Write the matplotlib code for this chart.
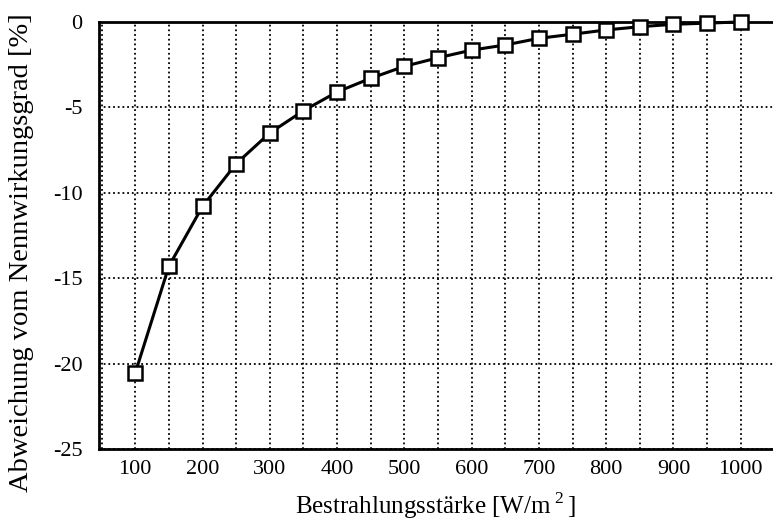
import matplotlib
matplotlib.use("Agg")
import matplotlib.pyplot as plt

# Bestrahlungsstärke in W/m^2 and Abweichung vom Nennwirkungsgrad in %
irradiance = [100, 150, 200, 250, 300, 350, 400, 450, 500, 550,
              600, 650, 700, 750, 800, 850, 900, 950, 1000]
deviation = [-20.55, -14.3, -10.8, -8.3, -6.5, -5.2, -4.1, -3.3, -2.6, -2.1,
             -1.65, -1.35, -0.96, -0.72, -0.47, -0.28, -0.14, -0.07, 0.0]

x_ticks = [100, 200, 300, 400, 500, 600, 700, 800, 900, 1000]
y_ticks = [0, -5, -10, -15, -20, -25]

plt.rcParams["font.family"] = ["Liberation Serif", "DejaVu Serif"]
plt.rcParams["mathtext.fontset"] = "custom"
plt.rcParams["mathtext.rm"] = "Liberation Serif"

fig = plt.figure(figsize=(7.73, 5.22), dpi=100)
ax = fig.add_axes([0.128, 0.140, 0.872, 0.818])

ax.plot(irradiance, deviation, color="black", lw=2.2, marker="s", ms=9.5,
        mfc="white", mec="black", mew=1.8, zorder=3, clip_on=False)

ax.set_xlim(46, 1048)
ax.set_ylim(-25, 0)
ax.set_xticks(x_ticks)
ax.set_xticks(range(50, 1050, 50), minor=True)
ax.set_yticks(y_ticks)
ax.set_yticklabels([str(v) for v in y_ticks])

dots = (0, (1, 1.6))
ax.grid(True, which="both", axis="x", color="black", ls=dots, lw=1.3)
ax.grid(True, which="major", axis="y", color="black", ls=dots, lw=1.3)
ax.set_axisbelow(True)

ax.tick_params(which="both", length=0, labelsize=16)
ax.tick_params(axis="x", pad=8)
ax.tick_params(axis="y", pad=12)

for side in ("left", "bottom", "top"):
    ax.spines[side].set_linewidth(2.0)
ax.spines["right"].set_visible(False)

ax.set_xlabel("Bestrahlungsstärke [W/m$\\,^{2}\\,$]", fontsize=18, labelpad=8)
ax.set_ylabel("Abweichung vom Nennwirkungsgrad [%]", fontsize=20.5)
ax.yaxis.set_label_coords(-0.097, 0.46)

fig.savefig("out.png", dpi=100)
